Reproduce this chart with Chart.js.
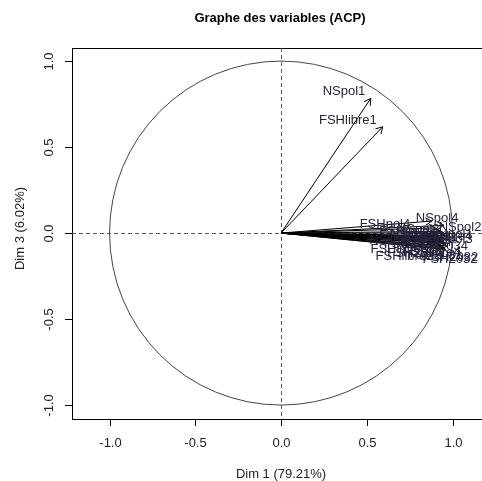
<!DOCTYPE html>
<html>
<head>
<meta charset="utf-8">
<script src="https://cdn.jsdelivr.net/npm/chart.js@4.4.0/dist/chart.umd.min.js"></script>
<style>
    html, body { margin: 0; padding: 0; background: #fff; }
    #wrap { width: 482px; height: 481px; position: relative; }
</style>
</head>
<body>
<div id="wrap"><canvas id="pcaChart"></canvas></div>
<script>
// Variables (coordinates on Dim 1 / Dim 3)
const varNames = ['NSpol1', 'FSHlibre1', 'NSpol4', 'NSpol2', 'FSHpol4', 'NSpol3', 'FSHpol2', 'FSHpol1',
    'FSHpol3', 'FSH2031', 'NSlibre1', 'FSH2033', 'FSH2034', 'FSHlibre3', 'FSHlibre2', 'FSHlibre4', 'FSH2032',
    'NSlibre2', 'NSlibre3', 'NSlibre4', 'FSH2081', 'FSH2082', 'FSH2084'];
const dim1 = [0.523, 0.593, 0.88, 0.95, 0.90, 0.93, 0.95, 0.96, 0.94, 0.96, 0.90, 0.93, 0.95, 0.91, 0.93, 0.95, 0.96,
    0.89, 0.92, 0.94, 0.96, 0.97, 0.92];
const dim3 = [0.783, 0.618, 0.07, 0.045, 0.03, 0.01, 0.0, -0.015, -0.025, -0.035, -0.05, -0.045, -0.055, -0.06, -0.075, -0.085, -0.095,
    -0.02, -0.03, -0.04, -0.06, -0.075, -0.09];

// where the labels were put (autoLab)
const labelDim1 = [0.367, 0.39, 0.91, 1.044, 0.606, 0.80, 0.72, 0.97, 0.97, 0.87, 0.66, 0.76, 0.93, 0.69, 0.72, 0.88, 0.985,
    0.78, 0.85, 0.97, 0.90, 0.99, 0.78];
const labelDim3 = [0.826, 0.657, 0.087, 0.03, 0.052, 0.023, 0.012, -0.006, -0.035, -0.023, -0.04, -0.064, -0.076, -0.093, -0.134, -0.11, -0.151,
    -0.01, -0.045, -0.02, -0.13, -0.14, -0.12];

const xTicks = [-1.0, -0.5, 0.0, 0.5, 1.0];
const yTicks = [-1.0, -0.5, 0.0, 0.5, 1.0];

const titleText = 'Graphe des variables (ACP)';
const xTitle = 'Dim 1 (79.21%)';
const yTitle = 'Dim 3 (6.02%)';

const FONT = '"Liberation Sans", Arial, sans-serif';

const rPlot = {
    id: 'rPlot',
    beforeDatasetsDraw(chart) {
        const { ctx, chartArea: a, scales: { x, y } } = chart;
        ctx.save();
        // box (right side runs off the canvas)
        ctx.strokeStyle = '#000';
        ctx.lineWidth = 1;
        ctx.strokeRect(a.left + 0.5, a.top + 0.5, a.right - a.left + 10, a.bottom - a.top);

        // dashed axes
        ctx.strokeStyle = '#555';
        ctx.setLineDash([4, 3]);
        const x0 = Math.round(x.getPixelForValue(0)) + 0.5;
        const y0 = Math.round(y.getPixelForValue(0)) + 0.5;
        ctx.beginPath();
        ctx.moveTo(x0, a.top);
        ctx.lineTo(x0, a.bottom);
        ctx.moveTo(a.left, y0);
        ctx.lineTo(a.right, y0);
        ctx.stroke();
        ctx.setLineDash([]);

        // correlation circle
        const rx = x.getPixelForValue(1) - x.getPixelForValue(0);
        const ry = y.getPixelForValue(0) - y.getPixelForValue(1);
        ctx.strokeStyle = '#444';
        ctx.beginPath();
        ctx.ellipse(x.getPixelForValue(0), y.getPixelForValue(0), rx, ry, 0, 0, Math.PI * 2);
        ctx.stroke();

        // arrows
        ctx.strokeStyle = '#000';
        ctx.lineWidth = 1;
        const ox = x.getPixelForValue(0), oy = y.getPixelForValue(0);
        for (let i = 0; i < dim1.length; i++) {
            const tx = x.getPixelForValue(dim1[i]);
            const ty = y.getPixelForValue(dim3[i]);
            const ang = Math.atan2(ty - oy, tx - ox);
            const len = 7.5;
            ctx.beginPath();
            ctx.moveTo(ox, oy);
            ctx.lineTo(tx, ty);
            ctx.moveTo(tx - len * Math.cos(ang - Math.PI / 6), ty - len * Math.sin(ang - Math.PI / 6));
            ctx.lineTo(tx, ty);
            ctx.lineTo(tx - len * Math.cos(ang + Math.PI / 6), ty - len * Math.sin(ang + Math.PI / 6));
            ctx.stroke();
        }

        // labels
        ctx.fillStyle = '#23233d';
        ctx.font = '13px ' + FONT;
        ctx.textAlign = 'center';
        ctx.textBaseline = 'middle';
        for (let i = 0; i < varNames.length; i++) {
            ctx.fillText(varNames[i], x.getPixelForValue(labelDim1[i]), y.getPixelForValue(labelDim3[i]));
        }
        ctx.restore();
    },
    afterDraw(chart) {
        const { ctx, chartArea: a, scales: { x, y } } = chart;
        ctx.save();
        ctx.strokeStyle = '#000';
        ctx.fillStyle = '#222';
        ctx.lineWidth = 1;
        ctx.font = '13px ' + FONT;
        ctx.textAlign = 'center';
        ctx.textBaseline = 'middle';

        // x ticks
        xTicks.forEach(v => {
            const px = Math.round(x.getPixelForValue(v)) + 0.5;
            ctx.beginPath();
            ctx.moveTo(px, a.bottom);
            ctx.lineTo(px, a.bottom + 7);
            ctx.stroke();
            ctx.fillText(v.toFixed(1), px, 443);
        });

        // y ticks (rotated labels like R)
        yTicks.forEach(v => {
            const py = Math.round(y.getPixelForValue(v)) + 0.5;
            ctx.beginPath();
            ctx.moveTo(a.left, py);
            ctx.lineTo(a.left - 7, py);
            ctx.stroke();
            ctx.save();
            ctx.translate(49, py);
            ctx.rotate(-Math.PI / 2);
            ctx.fillText(v.toFixed(1), 0, 0);
            ctx.restore();
        });

        // axis titles
        ctx.fillText(xTitle, x.getPixelForValue(0), 474);
        ctx.save();
        ctx.translate(20, (a.top + a.bottom) / 2 - 5);
        ctx.rotate(-Math.PI / 2);
        ctx.fillText(yTitle, 0, 0);
        ctx.restore();

        // main title
        ctx.fillStyle = '#000';
        ctx.font = 'bold 13px ' + FONT;
        ctx.fillText(titleText, 280, 18);
        ctx.restore();
    }
};

new Chart(document.getElementById('pcaChart'), {
    type: 'scatter',
    data: {
        datasets: [{
            data: dim1.map((v, i) => ({ x: v, y: dim3[i] })),
            pointRadius: 0,
            pointHoverRadius: 0
        }]
    },
    options: {
        responsive: true,
        maintainAspectRatio: false,
        animation: false,
        events: [],
        layout: { padding: { top: 48, left: 0, right: 0, bottom: 0 } },
        plugins: {
            legend: { display: false },
            title: { display: false },
            tooltip: { enabled: false }
        },
        scales: {
            x: {
                type: 'linear',
                min: -1.219,
                max: 1.172,
                grid: { display: false },
                border: { display: false },
                ticks: { display: false },
                afterFit: s => { s.height = 62; }
            },
            y: {
                type: 'linear',
                min: -1.081,
                max: 1.076,
                grid: { display: false },
                border: { display: false },
                ticks: { display: false },
                afterFit: s => { s.width = 72; }
            }
        }
    },
    plugins: [rPlot]
});
</script>
</body>
</html>
